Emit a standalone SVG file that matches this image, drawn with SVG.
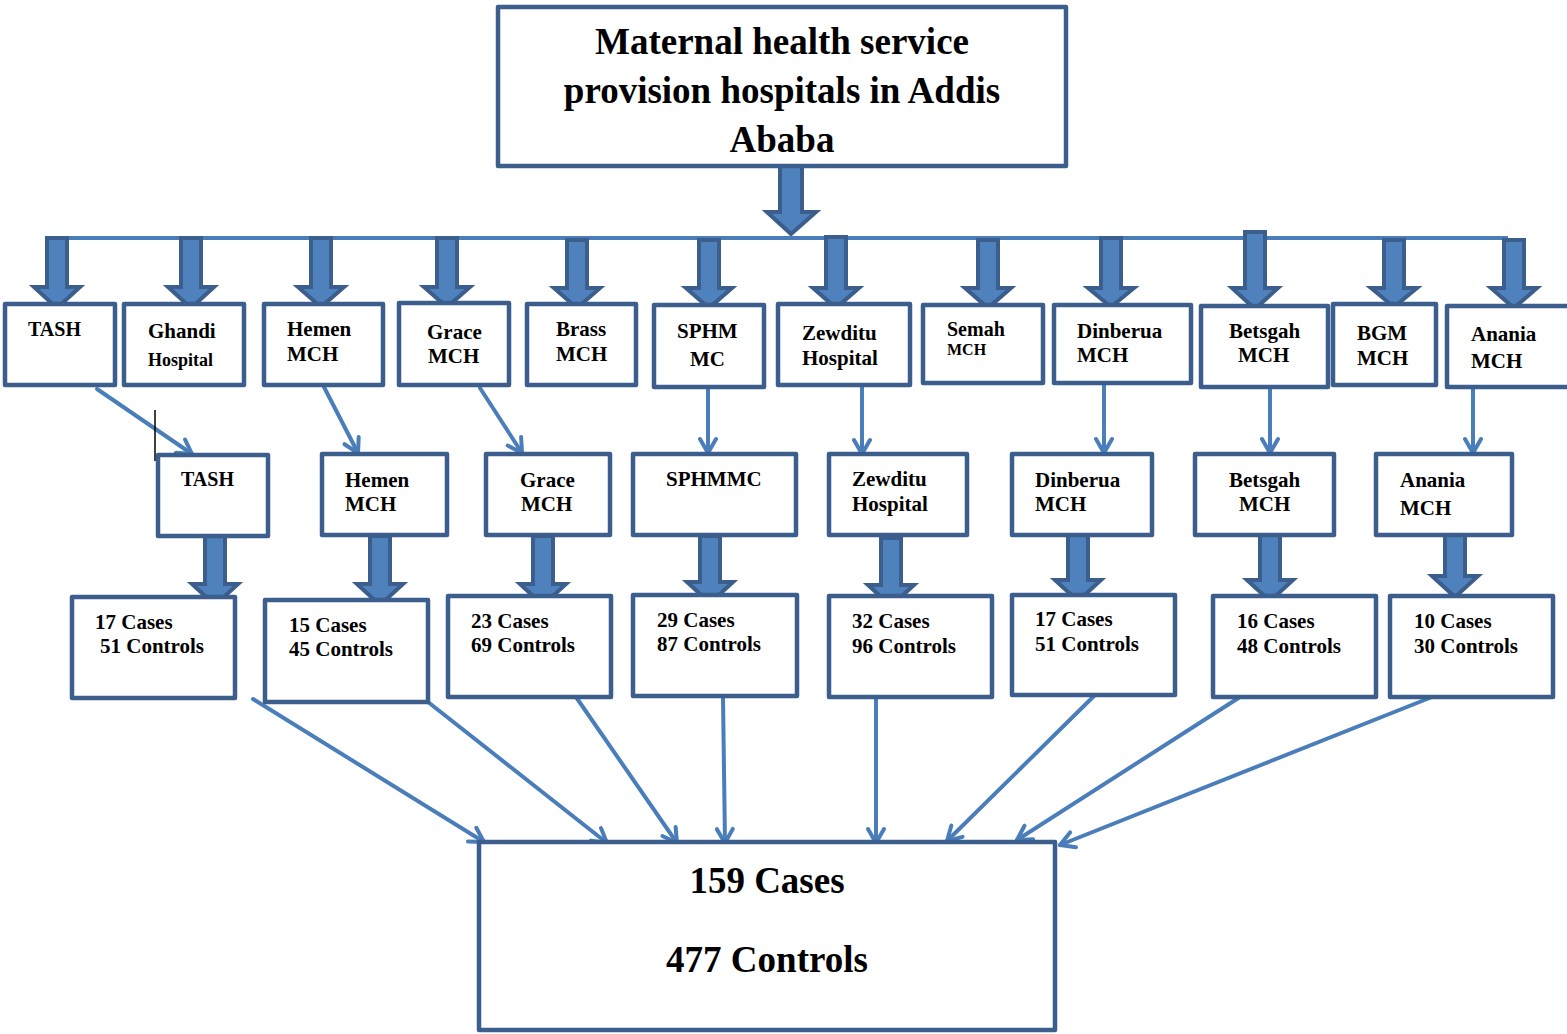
<svg xmlns="http://www.w3.org/2000/svg" width="1567" height="1034" viewBox="0 0 1567 1034">
<style>
.box{fill:#ffffff;stroke:#3b5e8c;stroke-width:4.5;stroke-linejoin:round}
.blk{fill:#4f81bd;stroke:#3b5e8c;stroke-width:4;stroke-linejoin:miter}
.ln{fill:none;stroke:#4a7ebb;stroke-width:4;stroke-linecap:round}
.t{font-family:"Liberation Serif","Times New Roman",serif;font-weight:bold;fill:#000}
.t20{font-size:20px}
.t21{font-size:21px}
.big{font-family:"Liberation Serif","Times New Roman",serif;font-weight:bold;font-size:37px;fill:#000;text-anchor:middle}
</style>
<defs>
<marker id="ah" viewBox="0 0 20 20" refX="17" refY="10" markerWidth="20" markerHeight="20" markerUnits="userSpaceOnUse" orient="auto">
<path d="M3,2 L17,10 L3,18" fill="none" stroke="#4a7ebb" stroke-width="4" stroke-linecap="round" stroke-linejoin="round"/>
</marker>
</defs>

<g id="connectors">
<!-- top block arrow -->
<polygon class="blk" points="780,166 802,166 802,212 816,212 791,234 767,212 780,212"/>
<line x1="45" y1="238" x2="1508" y2="238" stroke="#4a7ebb" stroke-width="4"/>
<!-- row1 block arrows -->
<polygon class="blk" points="47,238 67,238 67,287 80,287 57,308 34,287 47,287"/>
<polygon class="blk" points="181,238 201,238 201,287 214,287 191,308 168,287 181,287"/>
<polygon class="blk" points="311,238 331,238 331,287 344,287 321,307 298,287 311,287"/>
<polygon class="blk" points="437,238 457,238 457,287 470,287 447,307 424,287 437,287"/>
<polygon class="blk" points="567,240 587,240 587,288 600,288 577,308 554,288 567,288"/>
<polygon class="blk" points="699,240 719,240 719,288 732,288 709,308 686,288 699,288"/>
<polygon class="blk" points="826,237 846,237 846,288 859,288 836,308 813,288 826,288"/>
<polygon class="blk" points="978,240 998,240 998,288 1011,288 988,308 965,288 978,288"/>
<polygon class="blk" points="1101,238 1121,238 1121,288 1134,288 1111,307 1088,288 1101,288"/>
<polygon class="blk" points="1245,232 1265,232 1265,288 1278,288 1255,309 1232,288 1245,288"/>
<polygon class="blk" points="1384,240 1404,240 1404,288 1417,288 1394,307 1371,288 1384,288"/>
<polygon class="blk" points="1504,240 1524,240 1524,288 1537,288 1514,308 1491,288 1504,288"/>
<!-- row1 to row2 thin arrows -->
<line class="ln" x1="97" y1="389" x2="192" y2="454" marker-end="url(#ah)"/>
<line class="ln" x1="324" y1="387" x2="358" y2="453" marker-end="url(#ah)"/>
<line class="ln" x1="480" y1="388" x2="522" y2="453" marker-end="url(#ah)"/>
<line class="ln" x1="708" y1="389" x2="708" y2="453" marker-end="url(#ah)"/>
<line class="ln" x1="862" y1="387" x2="862" y2="454" marker-end="url(#ah)"/>
<line class="ln" x1="1104" y1="385" x2="1104" y2="453" marker-end="url(#ah)"/>
<line class="ln" x1="1270" y1="389" x2="1270" y2="453" marker-end="url(#ah)"/>
<line class="ln" x1="1473" y1="389" x2="1473" y2="453" marker-end="url(#ah)"/>
<line x1="155" y1="410" x2="155" y2="461" stroke="#000" stroke-width="1.5"/>
<!-- row2 to row3 block arrows -->
<polygon class="blk" points="205,536 225,536 225,584 238,584 215,605 192,584 205,584"/>
<polygon class="blk" points="370,536 390,536 390,584 403,584 380,605 357,584 370,584"/>
<polygon class="blk" points="533,536 553,536 553,584 566,584 543,605 520,584 533,584"/>
<polygon class="blk" points="700,536 720,536 720,582 733,582 710,603 687,582 700,582"/>
<polygon class="blk" points="881,538 901,538 901,585 914,585 891,606 868,585 881,585"/>
<polygon class="blk" points="1068,532 1088,532 1088,580 1101,580 1078,601 1055,580 1068,580"/>
<polygon class="blk" points="1260,532 1280,532 1280,580 1293,580 1270,601 1247,580 1260,580"/>
<polygon class="blk" points="1445,528 1465,528 1465,576 1478,576 1455,597 1432,576 1445,576"/>
<!-- row3 to total arrows -->
<line class="ln" x1="253" y1="699" x2="484" y2="842" marker-end="url(#ah)"/>
<line class="ln" x1="428" y1="702" x2="607" y2="843" marker-end="url(#ah)"/>
<line class="ln" x1="576" y1="697" x2="677" y2="843" marker-end="url(#ah)"/>
<line class="ln" x1="723" y1="697" x2="725" y2="843" marker-end="url(#ah)"/>
<line class="ln" x1="876" y1="697" x2="876" y2="843" marker-end="url(#ah)"/>
<line class="ln" x1="1095" y1="695" x2="947" y2="841" marker-end="url(#ah)"/>
<line class="ln" x1="1240" y1="697" x2="1017" y2="840" marker-end="url(#ah)"/>
<line class="ln" x1="1432" y1="697" x2="1060" y2="845" marker-end="url(#ah)"/>
</g>

<g id="top">
<rect class="box" x="498" y="7" width="568" height="159"/>
<text class="big" x="782" y="54">Maternal health service</text>
<text class="big" x="782" y="103">provision hospitals in Addis</text>
<text class="big" x="782" y="152">Ababa</text>
</g>

<!-- row 1 -->
<g id="r1-tash"><rect class="box" x="5" y="304" width="110" height="81"/><text class="t t20" x="28" y="336">TASH</text></g>
<g id="r1-ghandi"><rect class="box" x="124" y="304" width="120" height="81"/><text class="t t21" x="148" y="338">Ghandi</text><text class="t" font-size="18" x="148" y="366">Hospital</text></g>
<g id="r1-hemen"><rect class="box" x="264" y="304" width="119" height="81"/><text class="t t21" x="287" y="336">Hemen</text><text class="t t21" x="287" y="361">MCH</text></g>
<g id="r1-grace"><rect class="box" x="399" y="303" width="110" height="82"/><text class="t t21" x="427" y="339">Grace</text><text class="t t21" x="428" y="363">MCH</text></g>
<g id="r1-brass"><rect class="box" x="527" y="304" width="109" height="81"/><text class="t t21" x="556" y="336">Brass</text><text class="t t21" x="556" y="361">MCH</text></g>
<g id="r1-sphm"><rect class="box" x="654" y="305" width="110" height="82"/><text class="t t21" x="677" y="338">SPHM</text><text class="t t21" x="690" y="366">MC</text></g>
<g id="r1-zewditu"><rect class="box" x="778" y="304" width="132" height="81"/><text class="t t21" x="802" y="340">Zewditu</text><text class="t t21" x="802" y="365">Hospital</text></g>
<g id="r1-semah"><rect class="box" x="923" y="305" width="120" height="78"/><text class="t t20" x="947" y="336">Semah</text><text class="t" font-size="16" x="947" y="355">MCH</text></g>
<g id="r1-dinberua"><rect class="box" x="1054" y="305" width="137" height="78"/><text class="t t21" x="1077" y="338">Dinberua</text><text class="t t21" x="1077" y="362">MCH</text></g>
<g id="r1-betsgah"><rect class="box" x="1201" y="306" width="127" height="81"/><text class="t t21" x="1229" y="338">Betsgah</text><text class="t t21" x="1238" y="362">MCH</text></g>
<g id="r1-bgm"><rect class="box" x="1333" y="304" width="103" height="81"/><text class="t t21" x="1357" y="340">BGM</text><text class="t t21" x="1357" y="365">MCH</text></g>
<g id="r1-anania"><rect class="box" x="1447" y="306" width="140" height="81"/><text class="t t21" x="1471" y="341">Anania</text><text class="t t21" x="1471" y="368">MCH</text></g>

<!-- row 2 -->
<g id="r2-tash"><rect class="box" x="158" y="455" width="110" height="81"/><text class="t t20" x="181" y="486">TASH</text></g>
<g id="r2-hemen"><rect class="box" x="322" y="454" width="125" height="81"/><text class="t t21" x="345" y="487">Hemen</text><text class="t t21" x="345" y="511">MCH</text></g>
<g id="r2-grace"><rect class="box" x="486" y="454" width="124" height="81"/><text class="t t21" x="520" y="487">Grace</text><text class="t t21" x="521" y="511">MCH</text></g>
<g id="r2-sphmmc"><rect class="box" x="633" y="454" width="163" height="81"/><text class="t t21" x="666" y="486">SPHMMC</text></g>
<g id="r2-zewditu"><rect class="box" x="829" y="454" width="138" height="81"/><text class="t t21" x="852" y="486">Zewditu</text><text class="t t21" x="852" y="511">Hospital</text></g>
<g id="r2-dinberua"><rect class="box" x="1012" y="454" width="140" height="81"/><text class="t t21" x="1035" y="487">Dinberua</text><text class="t t21" x="1035" y="511">MCH</text></g>
<g id="r2-betsgah"><rect class="box" x="1195" y="454" width="139" height="81"/><text class="t t21" x="1229" y="487">Betsgah</text><text class="t t21" x="1239" y="511">MCH</text></g>
<g id="r2-anania"><rect class="box" x="1376" y="454" width="136" height="81"/><text class="t t21" x="1400" y="487">Anania</text><text class="t t21" x="1400" y="515">MCH</text></g>

<!-- row 3 -->
<g id="r3-tash"><rect class="box" x="72" y="597" width="163" height="101"/><text class="t t21" x="95" y="629">17 Cases</text><text class="t t21" x="100" y="653">51 Controls</text></g>
<g id="r3-hemen"><rect class="box" x="265" y="600" width="163" height="102"/><text class="t t21" x="289" y="632">15 Cases</text><text class="t t21" x="289" y="656">45 Controls</text></g>
<g id="r3-grace"><rect class="box" x="448" y="596" width="163" height="101"/><text class="t t21" x="471" y="628">23 Cases</text><text class="t t21" x="471" y="652">69 Controls</text></g>
<g id="r3-sphmmc"><rect class="box" x="633" y="595" width="164" height="101"/><text class="t t21" x="657" y="627">29 Cases</text><text class="t t21" x="657" y="651">87 Controls</text></g>
<g id="r3-zewditu"><rect class="box" x="829" y="596" width="163" height="101"/><text class="t t21" x="852" y="628">32 Cases</text><text class="t t21" x="852" y="653">96 Controls</text></g>
<g id="r3-dinberua"><rect class="box" x="1012" y="595" width="163" height="100"/><text class="t t21" x="1035" y="626">17 Cases</text><text class="t t21" x="1035" y="651">51 Controls</text></g>
<g id="r3-betsgah"><rect class="box" x="1213" y="596" width="163" height="101"/><text class="t t21" x="1237" y="628">16 Cases</text><text class="t t21" x="1237" y="653">48 Controls</text></g>
<g id="r3-anania"><rect class="box" x="1390" y="596" width="163" height="101"/><text class="t t21" x="1414" y="628">10 Cases</text><text class="t t21" x="1414" y="653">30 Controls</text></g>

<g id="total">
<rect class="box" x="479" y="842" width="576" height="188"/>
<text class="big" x="767" y="893">159 Cases</text>
<text class="big" x="767" y="972">477 Controls</text>
</g>
</svg>
